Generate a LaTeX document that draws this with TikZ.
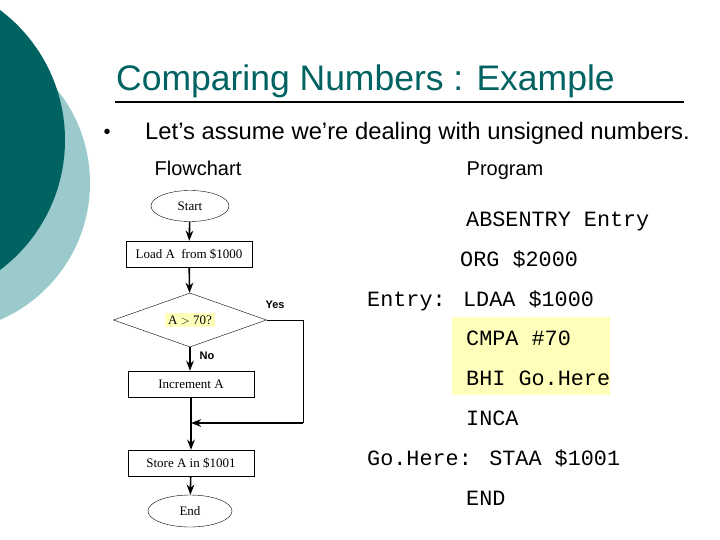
\documentclass[tikz,border=0pt]{standalone}
\usepackage{fontspec}
\setmainfont{Liberation Sans}
\newfontfamily\tms{Liberation Serif}
\newfontfamily\crr{Liberation Mono}
\usetikzlibrary{shapes.geometric, arrows.meta}
\definecolor{tealdark}{HTML}{006361}
\definecolor{teallight}{HTML}{9ACACC}
\definecolor{hilite}{HTML}{FFFFBB}
\tikzset{>=Stealth,
  box/.style={draw, thin, minimum width=126, minimum height=26, inner sep=0, font=\tms\fontsize{13}{15}\selectfont},
  term/.style={draw, thin, ellipse, inner sep=0, font=\tms\fontsize{13}{15}\selectfont},
  flow/.style={->, line width=1.6},
  code/.style={anchor=base west, inner sep=0, font=\crr\fontsize{21.8}{24}\selectfont},
  lbl/.style={font=\bfseries\fontsize{11}{13}\selectfont}}
\begin{document}
\begin{tikzpicture}[x=1pt, y=-1pt]
\useasboundingbox (0,0) rectangle (720,540);

% Background circles
\fill[teallight] (-59,183) circle (149);
\fill[tealdark] (-97.5,140) circle (162.5);

% Title and bullet
\node[anchor=base west, inner sep=0, text=tealdark, font=\fontsize{35.5}{40}\selectfont] (title) at (116,91) {Comparing Numbers : Example};
\draw[line width=1.2] (115,102) -- (684,102);
\node[anchor=base, inner sep=0, font=\fontsize{20}{24}\selectfont] (bullet) at (107,139) {\textbullet};
\node[anchor=base west, inner sep=0, font=\fontsize{23.8}{27}\selectfont] (intro) at (145,140) {Let’s assume we’re dealing with unsigned numbers.};
\node[anchor=base, inner sep=0, font=\fontsize{20}{23}\selectfont] (fc) at (198,176) {Flowchart};
\node[anchor=base, inner sep=0, font=\fontsize{20}{23}\selectfont] (prog) at (505,176) {Program};

% Flowchart
\node[term, minimum width=78, minimum height=31] (start) at (190,206) {Start};
\node[box] (load) at (189,254) {Load A\ \ from \$1000};
\node[draw, thin, diamond, aspect=2.83, minimum width=153, minimum height=54, inner sep=0] (test) at (190,320) {};
\node[fill=hilite, inner sep=3, font=\tms\fontsize{13}{15}\selectfont] (cond) at (190,320) {A $>$ 70?};
\node[box] (inc) at (191,384) {Increment A};
\node[box] (store) at (191,463) {Store A in \$1001};
\node[term, minimum width=84, minimum height=32] (end) at (190,511) {End};
\coordinate (yes) at (303,320);
\coordinate (join) at (303,423);
\coordinate (merge) at (191,423);

\draw[flow] (start) -- (load);
\draw[flow] (load) -- (test);
\draw[flow] (test.south) -- (test.south |- inc.north);
\draw[thin] (test.east) -- (yes) -- (join);
\draw[flow] (join) -- (merge);
\draw[line width=1.6] (inc) -- (merge);
\draw[flow] (merge) -- (store);
\draw[flow] (store) -- (end);
\node[lbl] (ylbl) at (275,305) {Yes};
\node[lbl] (nlbl) at (207,356) {No};

% Program
\fill[hilite] (452,317) rectangle (610,395);
\node[code] (l1) at (466,226) {ABSENTRY Entry};
\node[code] (l2) at (460,266) {ORG \$2000};
\node[code] (l3) at (367,306) {Entry: LDAA \$1000};
\node[code] (l4) at (466,345) {CMPA \#70};
\node[code] (l5) at (466,385) {BHI Go.Here};
\node[code] (l6) at (466,425) {INCA};
\node[code] (l7) at (367,465) {Go.Here: STAA \$1001};
\node[code] (l8) at (466,505) {END};
\end{tikzpicture}
\end{document}
